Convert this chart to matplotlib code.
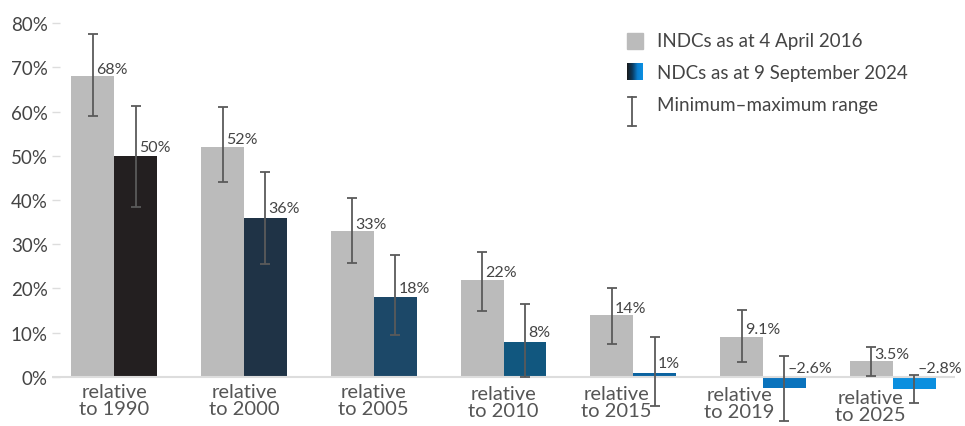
import matplotlib
matplotlib.use("Agg")
import matplotlib.pyplot as plt
import numpy as np
from matplotlib.patches import Rectangle
from matplotlib.lines import Line2D

plt.rcParams['font.family'] = ['Lato', 'DejaVu Sans']

# data
categories = ["relative\nto 1990", "relative\nto 2000", "relative\nto 2005", "relative\nto 2010",
              "relative\nto 2015", "relative\nto 2019", "relative\nto 2025"]
indc = [68, 52, 33, 22, 14, 9.1, 3.5]
indc_lo = [59, 44, 25.8, 14.9, 7.5, 3.4, 0.3]
indc_hi = [77.5, 61, 40.4, 28.3, 20.0, 15.2, 6.7]
indc_txt = ["68%", "52%", "33%", "22%", "14%", "9.1%", "3.5%"]

ndc = [50, 36, 18, 8, 1, -2.6, -2.8]
ndc_lo = [38.4, 25.5, 9.6, 0.0, -6.5, -9.9, -5.9]
ndc_hi = [61.2, 46.3, 27.6, 16.5, 9.0, 4.8, 0.5]
ndc_txt = ["50%", "36%", "18%", "8%", "1%", "\u20132.6%", "\u20132.8%"]

# colours
grey = '#bbbbbb'
ndc_cols = ['#231f20', '#1f3346', '#1c4868', '#11577f', '#0b63a0', '#0a73bd', '#0b8fdf']
txt = '#444444'
err = '#5a5a5a'

# category label nudges (x, y) for the last groups
lab_dx = [0, 0, 0, 0, -0.13, -0.18, -0.17]
lab_dy = [0, 0, 0, -0.4, -0.5, -0.7, -1.3]

fig = plt.figure(figsize=(9.65, 4.27), dpi=100)
ax = fig.add_axes([52/965, 0.0008, 903/965, 0.9637])

x = np.arange(len(categories))
w = 0.33

ax.bar(x - w/2, indc, w, color=grey, zorder=2)
ax.bar(x + w/2, ndc, w, color=ndc_cols, zorder=2)

ax.axhline(0, color='#dddddd', lw=1.5, zorder=3)

ax.errorbar(x - w/2, indc, yerr=[np.array(indc) - np.array(indc_lo), np.array(indc_hi) - np.array(indc)],
            fmt='none', ecolor=err, elinewidth=1.3, capsize=3.5, capthick=1.3, zorder=4)
ax.errorbar(x + w/2, ndc, yerr=[np.array(ndc) - np.array(ndc_lo), np.array(ndc_hi) - np.array(ndc)],
            fmt='none', ecolor=err, elinewidth=1.3, capsize=3.5, capthick=1.3, zorder=4)

# value labels
for i in range(len(x)):
    ax.text(x[i] - w/2 + 0.025, indc[i] + 0.1, indc_txt[i], ha='left', va='bottom',
            fontsize=11.5, color=txt, zorder=5)
    ax.text(x[i] + w/2 + 0.025, max(ndc[i], 0) + 0.5, ndc_txt[i], ha='left', va='bottom',
            fontsize=11.5, color=txt, zorder=5)

# category labels
for i, c in enumerate(categories):
    ax.text(x[i] + lab_dx[i], -1.4 + lab_dy[i], c, ha='center', va='top', fontsize=14.5,
            color='#555555', linespacing=1.0, clip_on=False)

ax.set_xlim(-0.48, 6.48)
ax.set_ylim(-11, 82)
ax.set_xticks([])
ax.set_yticks(range(0, 81, 10))
ax.set_yticklabels([f"{v}%" for v in range(0, 81, 10)])
ax.tick_params(axis='y', direction='in', length=6, width=1, color='#dddddd', labelsize=13.5,
               labelcolor=txt, pad=3)
for s in ax.spines.values():
    s.set_visible(False)

# legend
fig.add_artist(Rectangle((627/965, 1 - 50/427), 16/965, 16/427, transform=fig.transFigure,
                         color=grey))
fig.text(657/965, 1 - 42/427, "INDCs as at 4 April 2016", fontsize=13.5, color=txt, va='center')

gax = fig.add_axes([627/965, 1 - 81/427, 16/965, 17/427])
grad = np.linspace(0, 1, 64).reshape(1, -1)
cmap = matplotlib.colors.LinearSegmentedColormap.from_list('g', ['#1a1a1a', '#0b3a5e', '#0a7fd0', '#0b90e2'])
gax.imshow(grad, aspect='auto', cmap=cmap)
gax.axis('off')
fig.text(657/965, 1 - 73/427, "NDCs as at 9 September 2024", fontsize=13.5, color=txt, va='center')

ex = 632/965
fig.add_artist(Line2D([ex, ex], [1 - 98/427, 1 - 127/427], transform=fig.transFigure, color=err, lw=1.3))
for yy in (98, 127):
    fig.add_artist(Line2D([ex - 4/965, ex + 4/965], [1 - yy/427, 1 - yy/427], transform=fig.transFigure,
                          color=err, lw=1.3))
fig.text(657/965, 1 - 105/427, "Minimum\u2013maximum range", fontsize=13.5, color=txt, va='center')

fig.savefig('out.png', dpi=100)
